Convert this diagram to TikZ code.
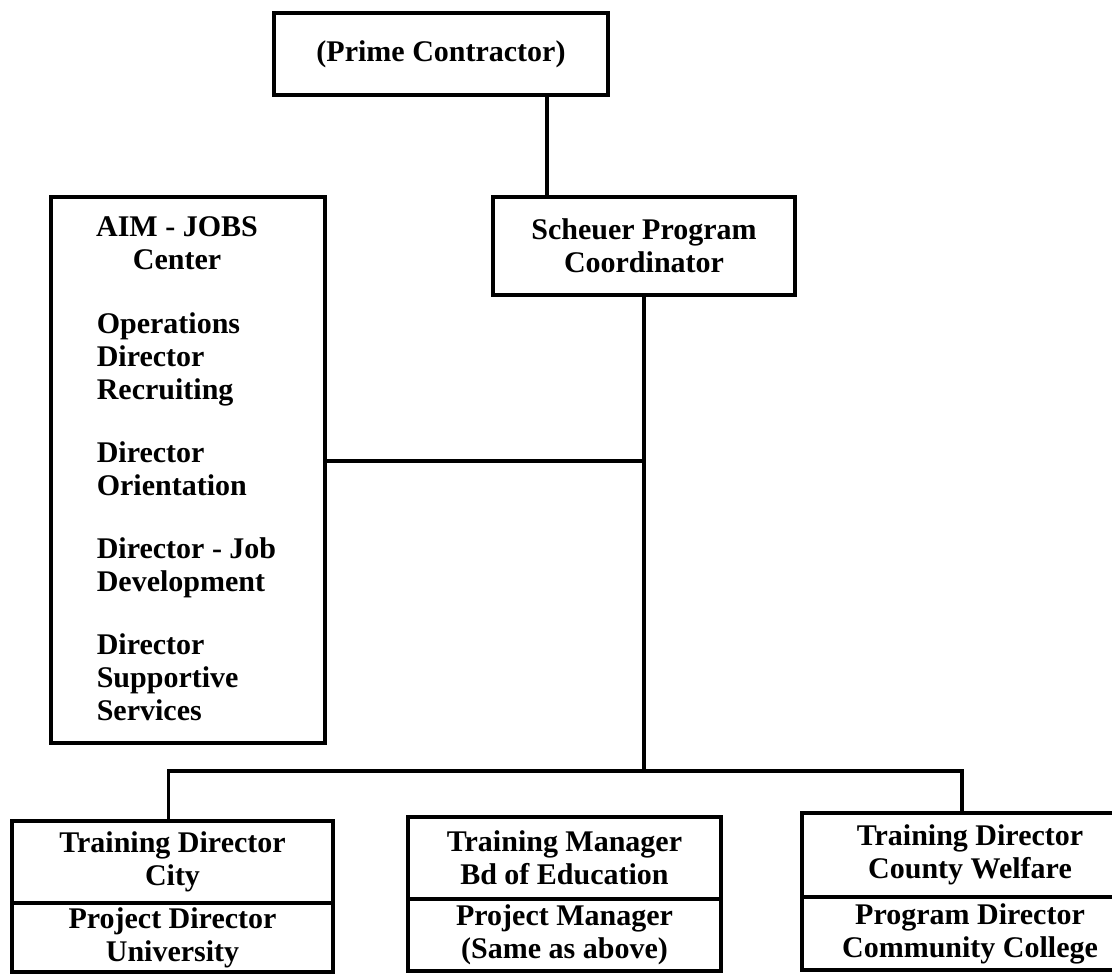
\documentclass[tikz,border=0pt]{standalone}
\usepackage{fontspec}
\setmainfont{Liberation Serif}
\begin{document}
\begin{tikzpicture}[x=0.5pt,y=-0.5pt,line width=1.8pt,
  txt/.style={font=\bfseries\fontsize{15}{16.5}\selectfont, inner sep=0pt, align=center},
  box/.style={draw, line width=1.8pt, txt}]
\useasboundingbox (0,0) rectangle (1112,974);
\clip (0,0) rectangle (1112,974);
% top
\node[box, minimum width=167pt, minimum height=41pt] (prime) at (441,54) {(Prime Contractor)};
\node[box, minimum width=151pt, minimum height=49pt] (sch) at (644,246) {Scheuer Program\\Coordinator};
% AIM-JOBS box
\node[draw, line width=1.8pt, minimum width=137pt, minimum height=273pt, inner sep=0pt] (aim) at (188,470) {};
\node[txt] (aimtitle) at (177,243) {AIM - JOBS\\Center};
\node[txt, align=left, anchor=north west] (aimlist) at (95,311)
  {Operations\\Director\\Recruiting\\[15pt]Director\\Orientation\\[15pt]Director - Job\\Development\\[15pt]Director\\Supportive\\Services};
% bottom boxes
\node[box, minimum width=160.5pt, minimum height=41pt] (lt) at (172.5,862) {Training Director\\City};
\node[box, minimum width=160.5pt, minimum height=34.5pt] (lb) at (172.5,937.5) {Project Director\\University};
\node[box, minimum width=156.5pt, minimum height=41pt] (mt) at (564.5,858) {Training Manager\\Bd of Education};
\node[box, minimum width=156.5pt, minimum height=36pt] (mb) at (564.5,935) {Project Manager\\(Same as above)};
\node[box, minimum width=168pt, minimum height=42pt] (rt) at (970,855) {Training Director\\County Welfare};
\node[box, minimum width=168pt, minimum height=36.5pt] (rb) at (970,933.5) {Program Director\\Community College};
% connectors
\coordinate (bus) at (644,771);
\draw ([xshift=53pt]prime.south) -- ([xshift=53pt]prime.south |- sch.north);
\draw (sch.south) -- (bus);
\draw ([yshift=4.5pt]aim.east) -- ([yshift=4.5pt]aim.east -| sch.south);
\draw ([xshift=-2pt]lt.north) -- ([xshift=-2pt]lt.north |- bus) -- ([xshift=-4pt]rt.north |- bus) -- ([xshift=-4pt]rt.north);
\end{tikzpicture}
\end{document}
